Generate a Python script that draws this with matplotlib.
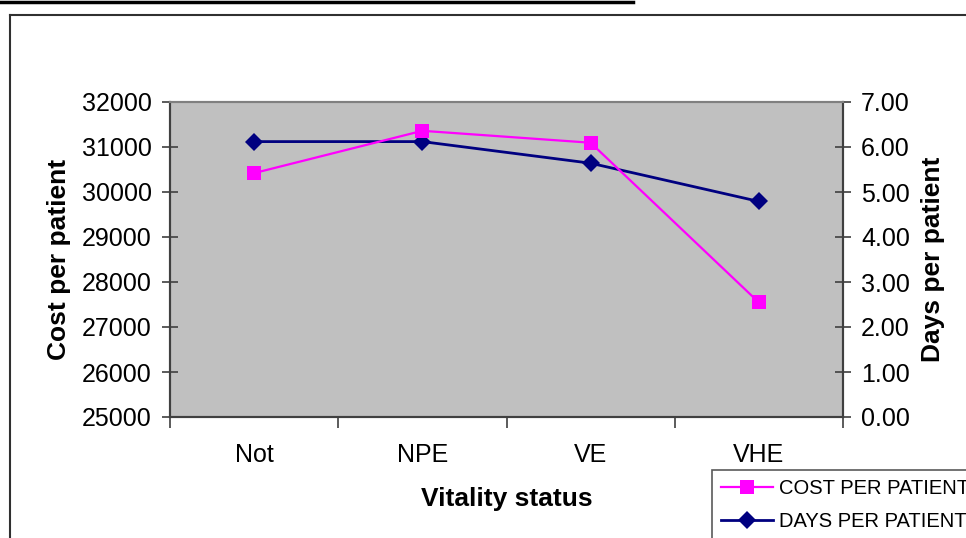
import matplotlib
matplotlib.use("Agg")
import matplotlib.pyplot as plt
from matplotlib.lines import Line2D

plt.rcParams['font.family'] = ['Liberation Sans', 'DejaVu Sans']

categories = ["Not", "NPE", "VE", "VHE"]
cost_per_patient = [30420, 31360, 31095, 27545]
days_per_patient = [6.12, 6.12, 5.64, 4.79]
cost_ticks = [25000, 26000, 27000, 28000, 29000, 30000, 31000, 32000]
days_ticks = [0, 1, 2, 3, 4, 5, 6, 7]

W, H = 966, 538
fig = plt.figure(figsize=(W / 100, H / 100), dpi=100)

# outer chart frame and the rule above it
fig.add_artist(Line2D([10 / W, 10 / W], [0, 1 - 15 / H], color='#303030', lw=1.5))
fig.add_artist(Line2D([10 / W, 1], [1 - 15 / H, 1 - 15 / H], color='#303030', lw=1.5))
fig.add_artist(Line2D([0, 633 / W], [1 - 2 / H, 1 - 2 / H], color='black', lw=2.5))

ax = fig.add_axes([170 / W, 1 - 417 / H, (843 - 170) / W, (417 - 102) / H])
x = list(range(len(categories)))

ax2 = ax.twinx()
ax.set_zorder(1)
ax2.set_zorder(0)
ax.patch.set_visible(False)
ax2.set_facecolor('#c0c0c0')
ax2.patch.set_visible(True)

l1, = ax.plot(x, cost_per_patient, color='#ff00ff', lw=1.6, marker='s',
              markersize=10, markeredgewidth=0, label='COST PER PATIENT', zorder=3)
ax.set_xlim(-0.5, len(categories) - 0.5)
ax.set_ylim(25000, 32000)
ax.set_yticks(cost_ticks)
ax.set_yticklabels([str(v) for v in cost_ticks])

l2, = ax2.plot(x, days_per_patient, color='#000080', lw=2, marker='D',
               markersize=9, markeredgewidth=0, label='DAYS PER PATIENT', zorder=2)
ax2.set_ylim(0, 7)
ax2.set_yticks(days_ticks)
ax2.set_yticklabels([f"{v:.2f}" for v in days_ticks])

# category ticks at boundaries, labels centered
ax.set_xticks([i - 0.5 for i in range(len(categories) + 1)])
ax.set_xticklabels([])
ax.set_xticks(x, minor=True)
ax.set_xticklabels(categories, minor=True)
ax.tick_params(axis='x', which='minor', length=0, pad=19, labelsize=18)
ax.tick_params(axis='x', which='major', direction='out', length=8, width=1.2, color='#404040')
ax.tick_params(axis='y', direction='inout', length=12, width=1.2, color='#404040', labelsize=18, pad=7)
ax2.tick_params(axis='y', direction='inout', length=12, width=1.2, color='#404040', labelsize=18, pad=7)

for a in (ax, ax2):
    for s in ('left', 'right', 'bottom'):
        a.spines[s].set_color('#404040')
        a.spines[s].set_linewidth(1.5)
    a.spines['top'].set_color('#808080')
    a.spines['top'].set_linewidth(1.5)

ax.set_ylabel('Cost per patient', fontsize=19, fontweight='bold', labelpad=8)
ax2.set_ylabel('Days per patient', fontsize=19, fontweight='bold', labelpad=8)
ax.set_xlabel('Vitality status', fontsize=19, fontweight='bold', labelpad=14)

leg = fig.legend(handles=[l1, l2], loc='upper left',
                 bbox_to_anchor=(712 / W, 1 - 470 / H), bbox_transform=fig.transFigure,
                 frameon=True, fancybox=False, fontsize=14.5, handlelength=2.6,
                 borderpad=0.45, labelspacing=0.7, borderaxespad=0, handletextpad=0.3)
leg.get_frame().set_edgecolor('#303030')
leg.get_frame().set_linewidth(1.2)

fig.savefig('out.png', dpi=100)
